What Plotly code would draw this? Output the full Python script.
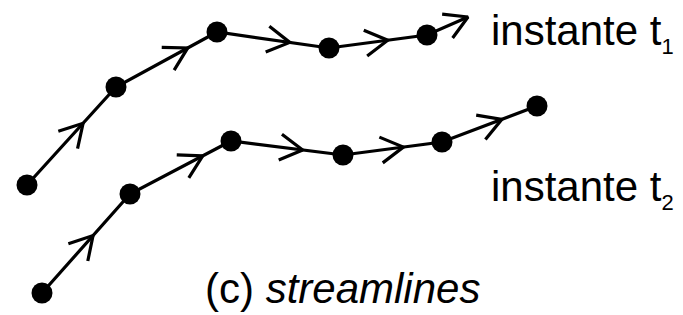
import math
import plotly.graph_objects as go

# Streamline at instant t1 (pixel-like diagram coordinates, y down)
line1_x = [27, 116, 217, 329, 427]
line1_y = [185, 87, 32, 48, 35]
line1_end_x = 468
line1_end_y = 17
line1_arrow_frac = [0.63, 0.71, 0.65, 0.60]

# Streamline at instant t2
line2_x = [42, 130, 231, 343, 442, 537]
line2_y = [293, 194, 141, 155, 142, 106]
line2_arrow_frac = [0.58, 0.72, 0.64, 0.61, 0.63]

labels = ["instante t<sub><span style='font-size:22px'>1</span></sub>",
          "instante t<sub><span style='font-size:22px'>2</span></sub>"]
caption = "(c) <i>streamlines</i>"

W, H = 683, 315
ARM = 26
HALF = math.radians(30)
FONT = "Liberation Sans, Arial, sans-serif"
FS = 42


def chevron(x0, y0, x1, y1, frac):
    tx = x0 + (x1 - x0) * frac
    ty = y0 + (y1 - y0) * frac
    ang = math.atan2(y0 - y1, x0 - x1)
    xs, ys = [], []
    for s in (1, -1):
        a = ang + s * HALF
        xs.append(tx + ARM * math.cos(a))
        ys.append(ty + ARM * math.sin(a))
    return [xs[0], tx, xs[1], None], [ys[0], ty, ys[1], None]


fig = go.Figure()


def add_line(xs, ys, fracs, end=None):
    px = list(xs) + ([end[0]] if end else [])
    py = list(ys) + ([end[1]] if end else [])
    fig.add_trace(go.Scatter(x=px, y=py, mode="lines",
                             line=dict(color="black", width=3.2),
                             hoverinfo="skip", showlegend=False))
    cx, cy = [], []
    for i, f in enumerate(fracs):
        a, b = chevron(xs[i], ys[i], xs[i + 1], ys[i + 1], f)
        cx += a
        cy += b
    if end:
        a, b = chevron(xs[-1], ys[-1], end[0], end[1], 1.0)
        cx += a
        cy += b
    fig.add_trace(go.Scatter(x=cx, y=cy, mode="lines",
                             line=dict(color="black", width=3.2),
                             hoverinfo="skip", showlegend=False))
    fig.add_trace(go.Scatter(x=xs, y=ys, mode="markers",
                             marker=dict(color="black", size=21),
                             hoverinfo="skip", showlegend=False))


add_line(line1_x, line1_y, line1_arrow_frac, end=(line1_end_x, line1_end_y))
add_line(line2_x, line2_y, line2_arrow_frac)

fig.add_annotation(x=489, y=32.5, xref="x", yref="y", text=labels[0],
                   showarrow=False, xanchor="left", yanchor="middle",
                   font=dict(family=FONT, size=FS, color="black"))
fig.add_annotation(x=489, y=188.5, xref="x", yref="y", text=labels[1],
                   showarrow=False, xanchor="left", yanchor="middle",
                   font=dict(family=FONT, size=FS, color="black"))
fig.add_annotation(x=203, y=288.5, xref="x", yref="y", text=caption,
                   showarrow=False, xanchor="left", yanchor="middle",
                   font=dict(family=FONT, size=FS, color="black"))

fig.update_layout(
    width=W, height=H,
    margin=dict(l=0, r=0, t=0, b=0),
    paper_bgcolor="white", plot_bgcolor="white",
    xaxis=dict(range=[0, W], visible=False, fixedrange=True),
    yaxis=dict(range=[H, 0], visible=False, fixedrange=True),
)

fig.write_html("out.html", config={"displayModeBar": False},
               post_script="document.body.style.margin='0';")
